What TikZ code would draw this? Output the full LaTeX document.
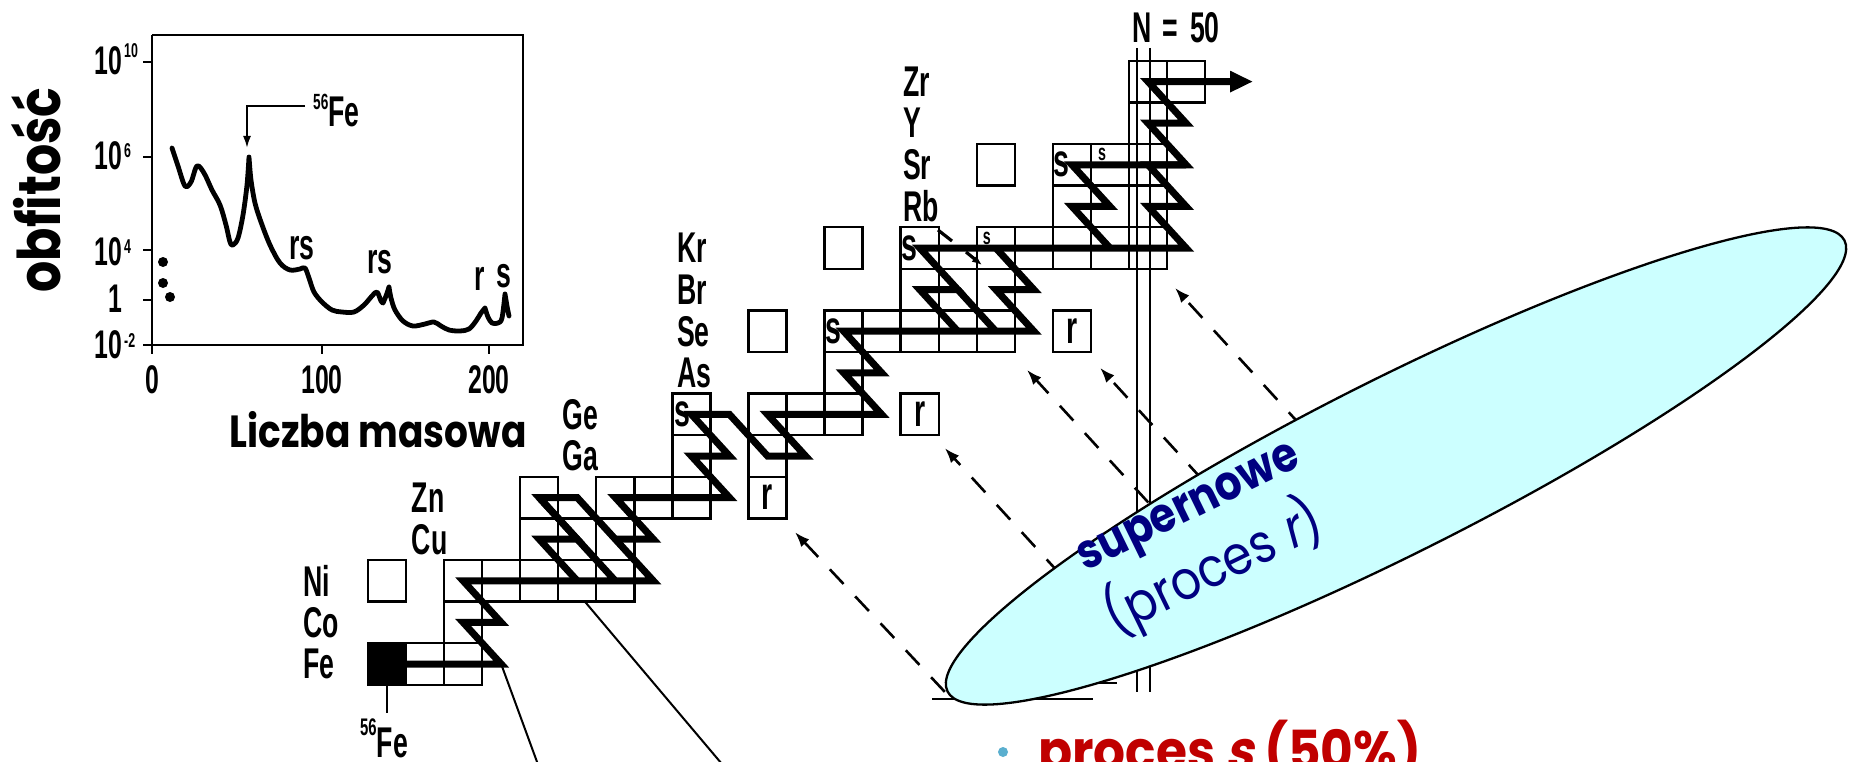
\documentclass[tikz,border=0pt]{standalone}
\usepackage{fontspec}
\usetikzlibrary{arrows.meta}
\newfontfamily\cond{Liberation Sans}[FakeStretch=0.62]
\newfontfamily\comic{Poppins}
\newfontfamily\comicsl{Poppins}[FakeSlant=0.22]
\definecolor{skyfill}{HTML}{CCFFFF}
\definecolor{navy}{HTML}{000080}
\definecolor{deepred}{HTML}{C00000}
\definecolor{bulletblue}{HTML}{5AAFCF}
\begin{document}
\begin{tikzpicture}[x=1pt,y=-1pt,
  cellline/.style={line width=2.4pt},
  spath/.style={line width=7pt,line join=miter,miter limit=10},
  el/.style={font=\cond\bfseries\fontsize{43}{43}\selectfont,inner sep=0pt,anchor=west},
  cl/.style={font=\cond\bfseries\fontsize{46}{46}\selectfont,inner sep=0pt},
  cls/.style={font=\cond\bfseries\fontsize{23}{23}\selectfont,inner sep=0pt},
  dasharrow/.style={line width=2.6pt,dash pattern=on 20pt off 17pt,-{Latex[length=15pt,width=11pt]}},
  thinline/.style={line width=2pt},
  axis/.style={line width=2.5pt},
  ticklab/.style={font=\cond\bfseries\fontsize{40}{40}\selectfont,inner sep=0pt},
  suplab/.style={font=\cond\bfseries\fontsize{20}{20}\selectfont,inner sep=0pt},
  plab/.style={font=\cond\bfseries\fontsize{43}{43}\selectfont,inner sep=0pt}]
\useasboundingbox (0,0) rectangle (1849,762);
\fill[white] (0,0) rectangle (1849,762);

% ---------------- abundance inset ----------------
\draw[axis] (152,35) -- (523,35) -- (523,345) -- (143,345);
\draw[axis] (152,35) -- (152,345);
\foreach \yy in {62,157,250,300} \draw[axis] (143,\yy) -- (152,\yy);
\foreach \xx in {152,322,489} \draw[axis] (\xx,345) -- (\xx,354);
\node[ticklab,anchor=base east] (m10) at (122,75) {10};
\node[suplab,anchor=base west] (e10) at (124,58) {10};
\node[ticklab,anchor=base east] (m6) at (122,170) {10};
\node[suplab,anchor=base west] (e6) at (124,158) {6};
\node[ticklab,anchor=base east] (m4) at (122,265) {10};
\node[suplab,anchor=base west] (e4) at (124,253) {4};
\node[ticklab,anchor=base east] (m0) at (122,312) {1};
\node[ticklab,anchor=base east] (mm2) at (122,358) {10};
\node[suplab,anchor=base west] (em2) at (124,347) {-2};
\node[ticklab,anchor=base] (x0) at (152,393) {0};
\node[ticklab,anchor=base] (x100) at (322,393) {100};
\node[ticklab,anchor=base] (x200) at (489,393) {200};
% abundance curve
\draw[line width=4.8pt,line cap=round,line join=round]
  plot[smooth,tension=0.55] coordinates {(172,148) (178,166) (185,186) (191,182) (197,166) (204,173) (212,190) (220,205) (226,225) (230,242) (233,245) (238,238) (243,215) (247,185) (249,157)}
  plot[smooth,tension=0.55] coordinates {(249,157) (251,180) (255,203) (261,222) (270,245) (280,263) (290,270) (300,269) (305,268) (309,278) (314,292) (322,302) (332,310) (342,312) (354,312) (364,305) (372,296) (377,292) (381,301) (383,303)}
  plot[smooth,tension=0.55] coordinates {(383,303) (386,296) (389,287)}
  plot[smooth,tension=0.55] coordinates {(389,287) (391,298) (395,310) (403,321) (413,326) (425,324) (434,322) (441,326) (449,330) (460,331) (469,329) (476,321) (481,313) (485,308)}
  plot[smooth,tension=0.55] coordinates {(485,308) (488,317) (492,323) (498,323) (502,318) (505,294)}
  plot[smooth,tension=0.55] coordinates {(505,294) (507,306) (509,316)};
\fill (163,262) circle[radius=5];
\fill (163,283) circle[radius=5];
\fill (170,297) circle[radius=5];
\node[plab,anchor=center] (rs1) at (302,248) {rs};
\node[plab,anchor=center] (rs2) at (380,262) {rs};
\node[plab,anchor=center] (rr) at (480,279) {r};
\node[plab,anchor=center] (ss) at (504,276) {s};
\node[plab,anchor=base west] (fepeak) at (313,127) {\raisebox{17pt}{\fontsize{22}{22}\selectfont 56}Fe};
\coordinate (pk) at (247,148);
\coordinate (pkstart) at (305,106);
\draw[thinline,-{Latex[length=12pt,width=8pt]}] (pkstart) -- (pk |- pkstart) -- (pk);
\node[rotate=90,anchor=base,inner sep=0pt] (ylab) at (60,190) {\scalebox{1}[1.2]{\resizebox{205pt}{!}{\comic\bfseries obfitość}}};
\node[anchor=base,inner sep=0pt] (xlab) at (378,447) {\scalebox{1}[1.2]{\resizebox{297pt}{!}{\comic\bfseries Liczba masowa}}};

% ---------------- chart of nuclides ----------------
\draw[thinline] (1137,48) -- (1137,692);
\draw[thinline] (1150,48) -- (1150,692);
\draw[thinline] (932,699) -- (1093,699);
\draw[thinline] (1070,683) -- (1117,683);
\node[plab,anchor=base] (n50) at (1176,43) {N\hspace{11pt}=\hspace{12pt}50};

\begin{scope}[shift={(-754.5pt,-1745.6pt)},x=38.05pt,y=41.6pt]
  \foreach \n/\z in {31/26,32/26,32/27,30/28,32/28,33/28,34/28,35/28,36/28,34/29,35/29,36/29,
                     34/30,36/30,37/30,38/30,40/30,38/31,40/31,38/32,40/32,41/32,42/32,44/32,42/33,
                     40/34,42/34,43/34,44/34,45/34,46/34,48/34,44/35,45/35,46/35,
                     42/36,44/36,46/36,47/36,48/36,49/36,50/36,48/37,49/37,50/37,
                     46/38,48/38,49/38,50/38,50/39,50/40,51/40}
    \draw[cellline] (\n-0.5,\z-0.5) rectangle (\n+0.5,\z+0.5);
  \filldraw[cellline] (29.5,25.5) rectangle (30.5,26.5);
  % element symbols
  \node[el] (lFe) at (27.79,26) {Fe};
  \node[el] (lCo) at (27.79,27) {Co};
  \node[el] (lNi) at (27.79,28) {Ni};
  \node[el] (lCu) at (30.65,29) {Cu};
  \node[el] (lZn) at (30.65,30) {Zn};
  \node[el] (lGa) at (34.62,31) {Ga};
  \node[el] (lGe) at (34.62,32) {Ge};
  \node[el] (lAs) at (37.62,33) {As};
  \node[el] (lSe) at (37.62,34) {Se};
  \node[el] (lBr) at (37.62,35) {Br};
  \node[el] (lKr) at (37.62,36) {Kr};
  \node[el] (lRb) at (43.56,37) {Rb};
  \node[el] (lSr) at (43.56,38) {Sr};
  \node[el] (lY) at (43.56,39) {Y};
  \node[el] (lZr) at (43.56,40) {Zr};
  % s-only and r-only marks
  \node[cl,xshift=-9pt] (s70) at (38,32) {s};
  \node[cl,xshift=-10pt] (s76) at (42,34) {s};
  \node[cl,xshift=-10pt] (s80) at (44,36) {s};
  \node[cl,xshift=-10pt] (s86) at (48,38) {s};
  \node[cls,xshift=-9pt,yshift=10pt] (s82) at (46,36) {s};
  \node[cls,xshift=-8pt,yshift=10pt] (s87) at (49,38) {s};
  \node[cl] (r70) at (40,30) {r};
  \node[cl] (r76) at (44,32) {r};
  \node[cl] (r82) at (48,34) {r};
  % s-process path
  \draw[spath] (30,26)--(33,26)--(32,27)--(33,27)--(32,28)--(37,28)--(35,30)--(34,30)--(36,28);
  \draw[spath] (35,28)--(34,29)--(35,29)--(34,30);
  \draw[spath] (36,29)--(37,29)--(36,30)--(39,30)--(38,31)--(39,31)--(38,32)--(39,32)--(40,31)--(41,31)--(40,32)--(43,32)--(42,33)--(43,33)--(42,34)--(47,34)--(46,35)--(47,35)--(46,36);
  \draw[spath] (45,35)--(46,34);
  \draw[spath] (49,36)--(48,37)--(49,37)--(48,38)--(51,38);
  \draw[spath,-{Triangle[length=23pt,width=20pt]}] (45,34)--(44,35)--(45,35)--(44,36)--(51,36)--(50,37)--(51,37)--(50,38)--(51,38)--(50,39)--(51,39)--(50,40)--(52.76,40);
  % r-process feeding arrows
  \draw[dasharrow] (44.66,25.33) -- (40.72,29.17);
  \draw[dasharrow] (49.66,26.19) -- (44.66,31.19);
  \draw[dasharrow] (51.32,28.57) -- (46.82,33.07);
  \draw[dasharrow] (52.74,29.12) -- (48.74,33.12);
  \draw[dasharrow] (54.71,31.04) -- (50.71,35.04);
  \coordinate (fe56) at (30,25.5);
  \coordinate (fepath) at (33,26);
  \coordinate (nicorner) at (35.2,27.5);
\end{scope}

% branching arrow at 81Kr
\draw[line width=3.2pt] (938,230) -- (952,241);
\draw[line width=3.2pt,-{Latex[length=10pt,width=8pt]}] (966,252) -- (982,265);

% 56Fe marker
\draw[thinline] (fe56) -- ++(0,28);
\node[plab,anchor=base west] (fe56lab) at (360,757) {\raisebox{22pt}{\fontsize{24}{24}\selectfont 56}Fe};
% lines towards the lower panel
\draw[thinline] (fepath) -- (540,770);
\draw[thinline] (nicorner) -- (727,770);

% supernova r-process region
\filldraw[fill=skyfill,draw=black,line width=2.3pt,rotate around={26.7:(1396,466)}] (1396,466) ellipse [x radius=502,y radius=87];
\node[rotate=26,text=navy,inner sep=0pt] (sn1) at (1191,512) {\scalebox{1}[1.15]{\resizebox{241pt}{!}{\comic\bfseries supernowe}}};
\node[rotate=26,text=navy,inner sep=0pt] (sn2) at (1213,568) {\scalebox{1}[1.15]{\resizebox{235pt}{!}{\comic (proces {\comicsl r})}}};

% bullet text
\fill[bulletblue] (1003,752) circle[radius=5];
\node[anchor=base west,inner sep=0pt,text=deepred] (btext) at (1038,770) {\scalebox{1}[1.1]{\resizebox{383pt}{!}{\comic\bfseries proces {\comicsl\bfseries s} (50\%)}}};
\end{tikzpicture}
\end{document}
